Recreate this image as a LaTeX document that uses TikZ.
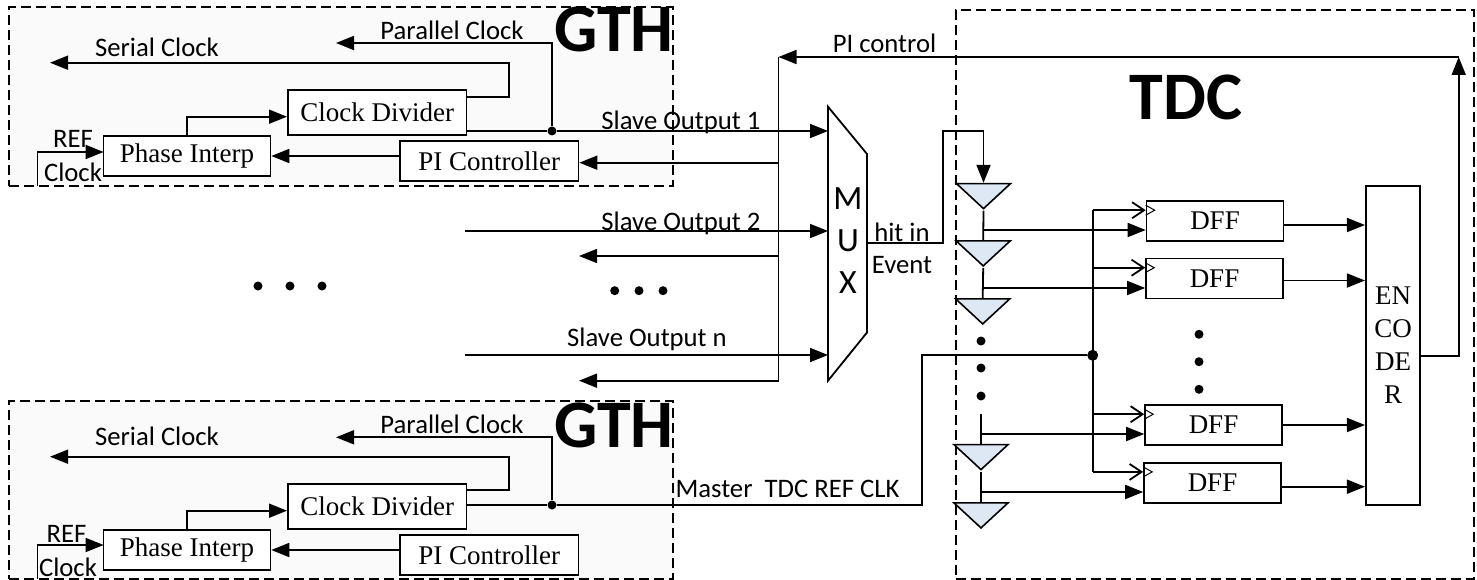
\documentclass[tikz,border=0pt]{standalone}
\usepackage{fontspec}
\setmainfont{Liberation Serif}
\newfontfamily\lblfont{Carlito}
\usetikzlibrary{arrows.meta,shapes.geometric}
\definecolor{gthgray}{HTML}{FAFAFA}
\definecolor{bufblue}{HTML}{DEE8F5}
\tikzset{
    wire/.style={line width=1.8pt},
    arr/.style={wire, -{Triangle[length=18pt,width=14pt]}},
    clkarr/.style={wire, -{Straight Barb[length=12pt,width=16pt]}},
    regionbox/.style={draw, dash pattern=on 10pt off 5pt, line width=1.1pt, inner sep=0pt},
    blockbox/.style={draw, fill=white, line width=1.6pt, inner sep=0pt, font=\fontsize{27}{33}\selectfont},
    dffbox/.style={blockbox, minimum width=137pt, minimum height=40pt},
    lbl/.style={anchor=base, inner sep=0pt, font=\lblfont\fontsize{26.7}{30}\selectfont},
    biglbl/.style={anchor=base, inner sep=0pt, font=\lblfont\bfseries\fontsize{68}{70}\selectfont},
    dotnode/.style={circle, fill=black, inner sep=0pt, minimum size=9pt},
    buffer/.style={isosceles triangle, isosceles triangle stretches, shape border rotate=-90,
        draw, fill=bufblue, line width=1.6pt, inner sep=0pt, minimum width=54pt, minimum height=25pt},
}
\begin{document}
\begin{tikzpicture}[x=1pt, y=-1pt]
    \useasboundingbox (0,0) rectangle (1477,580);

    % region boxes
    \node[regionbox, fill=gthgray, minimum width=664pt, minimum height=179pt] (gth1) at (341,96.5) {};
    \node[regionbox, fill=gthgray, minimum width=664pt, minimum height=178pt] (gth2) at (341,490) {};
    \node[regionbox, minimum width=518pt, minimum height=569pt] (tdc) at (1215,294.5) {};
    \node[biglbl] (gth1name) at (614,52) {GTH};
    \node[biglbl] (gth2name) at (614,447) {GTH};
    \node[biglbl] (tdcname) at (1186,120) {TDC};

    % upper GTH
    \node[blockbox, minimum width=178.5pt, minimum height=45pt] (cd1) at (377.2,112.5) {Clock Divider};
    \node[blockbox, minimum width=167pt, minimum height=40pt] (phase1) at (187,156) {Phase Interp};
    \node[blockbox, minimum width=178.5pt, minimum height=40pt] (pi1) at (489.3,161) {PI Controller};
    \coordinate (cd1out) at (466.5,131);
    \node[dotnode] (dot1) at (552,131) {};
    \coordinate (par1end) at (336,43);
    \coordinate (ser1a) at (466.5,97);
    \coordinate (ser1b) at (509,62.7);
    \coordinate (ser1end) at (50,62.7);
    \coordinate (cd1in) at (287,116.7);
    \coordinate (ref1a) at (37.5,186);
    \coordinate (ref1b) at (103.6,152);
    \draw[wire] (cd1out) -- (dot1);
    \draw[arr] (dot1) |- (par1end);
    \draw[arr] (ser1a) -| (ser1b) -- (ser1end);
    \draw[arr] (phase1.north) |- (cd1in);
    \draw[arr] (ref1a) |- (ref1b);
    \draw[arr] (pi1.west |- phase1.east) -- (phase1.east);
    \node[lbl] (par1txt) at (452,39.5) {Parallel Clock};
    \node[lbl] (ser1txt) at (157,56.5) {Serial Clock};
    \node[lbl] (ref1txt) at (73,148) {REF};
    \node[lbl] (clk1txt) at (73,181.7) {Clock};

    % lower GTH
    \node[blockbox, minimum width=178.5pt, minimum height=45pt] (cd2) at (377.2,506.5) {Clock Divider};
    \node[blockbox, minimum width=167pt, minimum height=40pt] (phase2) at (187,550) {Phase Interp};
    \node[blockbox, minimum width=178.5pt, minimum height=40pt] (pi2) at (489.3,555) {PI Controller};
    \node[dotnode] (dot2) at (552,505) {};
    \coordinate (par2end) at (336,437.3);
    \coordinate (ser2a) at (466.5,490);
    \coordinate (ser2b) at (509,456.7);
    \coordinate (ser2end) at (50,456.7);
    \coordinate (cd2in) at (287,510.7);
    \coordinate (ref2a) at (37.5,579);
    \coordinate (ref2b) at (103.6,545);
    \draw[arr] (dot2) |- (par2end);
    \draw[arr] (ser2a) -| (ser2b) -- (ser2end);
    \draw[arr] (phase2.north) |- (cd2in);
    \draw[arr] (ref2a) |- (ref2b);
    \draw[arr] (pi2.west |- phase2.east) -- (phase2.east);
    \node[lbl] (par2txt) at (452,433) {Parallel Clock};
    \node[lbl] (ser2txt) at (157,445) {Serial Clock};
    \node[lbl] (ref2txt) at (66.5,542.7) {REF};
    \node[lbl] (clk2txt) at (68,576) {Clock};

    % MUX
    \coordinate (muxa) at (828,106.7);
    \coordinate (muxb) at (867,154);
    \coordinate (muxc) at (867,332.5);
    \coordinate (muxd) at (828,380.7);
    \draw[line width=1.8pt] (muxa) -- (muxb) -- (muxc) -- (muxd) -- cycle;
    \node[inner sep=0pt, align=center, font=\lblfont\fontsize{34}{42}\selectfont] (muxname) at (848,241) {M\\U\\X};

    % slave outputs and PI control bus
    \coordinate (mux1) at (828,131);
    \coordinate (mux2) at (828,231);
    \coordinate (mux3) at (828,355);
    \coordinate (s2start) at (465,231);
    \coordinate (s3start) at (465,355);
    \coordinate (bustop) at (778.5,57);
    \coordinate (busbot) at (778.5,380.7);
    \coordinate (pi1tap) at (778.5,162.7);
    \coordinate (tap2) at (778.5,256);
    \coordinate (end2) at (579,256);
    \coordinate (end3) at (579,380.7);
    \draw[arr] (dot1) -- (mux1);
    \draw[arr] (s2start) -- (mux2);
    \draw[arr] (s3start) -- (mux3);
    \draw[wire] (bustop) -- (busbot);
    \draw[arr] (pi1tap) -- (pi1.east |- pi1tap);
    \draw[arr] (tap2) -- (end2);
    \draw[arr] (busbot) -- (end3);
    \node[lbl] (s1txt) at (681,130) {Slave Output 1};
    \node[lbl] (s2txt) at (681,230) {Slave Output 2};
    \node[lbl] (s3txt) at (647,346.7) {Slave Output n};
    \node[lbl] (pitxt) at (884.5,53) {PI control};
    \node[lbl] (hittxt) at (902,241) {hit in};
    \node[lbl] (evtxt) at (902,273) {Event};
    \node[lbl] (mastertxt) at (787.5,497) {Master\ \ TDC REF CLK};

    % delay line
    \node[buffer, anchor=apex] (buf1) at (983.5,210.7) {};
    \node[buffer, anchor=apex] (buf2) at (983.2,268) {};
    \node[buffer, anchor=apex] (buf3) at (982.7,326) {};
    \node[buffer, anchor=apex] (buf4) at (981,471.7) {};
    \node[buffer, anchor=apex] (buf5) at (981,530) {};
    \coordinate (hita) at (867,243);
    \coordinate (hitb) at (943,131);
    \coordinate (stub) at (981,414);
    \draw[wire] (hita) -| (hitb) -- (hitb -| buf1.apex);
    \draw[arr] (hitb -| buf1.apex) -- (buf1.lower side);
    \draw[wire] (buf1.apex) -- (buf2.lower side);
    \draw[wire] (buf2.apex) -- (buf3.lower side);
    \draw[wire] (stub) -- (buf4.lower side);
    \draw[wire] (buf4.apex) -- (buf5.lower side);

    % DFF column
    \node[dffbox] (dff1) at (1215,221) {DFF};
    \node[dffbox] (dff2) at (1214.5,278.5) {DFF};
    \node[dffbox] (dff3) at (1213.5,425) {DFF};
    \node[dffbox] (dff4) at (1212.5,482.7) {DFF};
    \node[blockbox, minimum width=54.5pt, minimum height=319pt, align=center] (enc) at (1393,345.5) {EN\\CO\\DE\\R};
    \coordinate (tap11) at (983.5,230);
    \coordinate (tap12) at (983,288);
    \coordinate (tap13) at (981,434);
    \coordinate (tap14) at (981,492);
    \draw[arr] (tap11) -- (tap11 -| dff1.west);
    \draw[arr] (tap12) -- (tap12 -| dff2.west);
    \draw[arr] (tap13) -- (tap13 -| dff3.west);
    \draw[arr] (tap14) -- (tap14 -| dff4.west);

    % master clock
    \node[dotnode, minimum size=11pt] (clkdot) at (1092.7,355.3) {};
    \coordinate (mclka) at (921.7,505);
    \draw[wire] (dot2 -| cd2.east) -- (dot2) -- (mclka) |- (clkdot);
    \foreach \nm in {dff1,dff2,dff3,dff4} {
        \coordinate (\nm-clk) at ([yshift=-10pt]\nm.north west);
        \draw[line width=1pt] ([yshift=5pt]\nm-clk) -- ([xshift=9pt]\nm-clk) -- ([yshift=-5pt]\nm-clk);
        \draw[clkarr] (clkdot |- \nm-clk) -- (\nm-clk);
    }
    \draw[wire] (clkdot |- dff1-clk) -- (clkdot |- dff4-clk);

    % encoder and feedback
    \foreach \nm/\off in {dff1/4,dff2/2,dff3/0,dff4/4} {
        \coordinate (\nm-out) at ([yshift=-\off pt]\nm.east);
        \draw[arr] (\nm-out) -- (\nm-out -| enc.west);
    }
    \coordinate (encout) at (1420,355.7);
    \coordinate (fbtop) at (1458.7,57);
    \draw[arr] (encout) -| (fbtop);
    \draw[arr] (fbtop) -- (bustop);

    % dots
    \foreach \i/\xx/\yy in {1/258/286,2/290/286,3/322/286,4/614.7/290.7,5/639/290.7,6/663/290.7,
        7/981/341,8/981/368,9/981/396,10/1199/334.3,11/1199/361.7,12/1199/389.3} {
        \node[dotnode] (ell\i) at (\xx,\yy) {};
    }
\end{tikzpicture}
\end{document}
